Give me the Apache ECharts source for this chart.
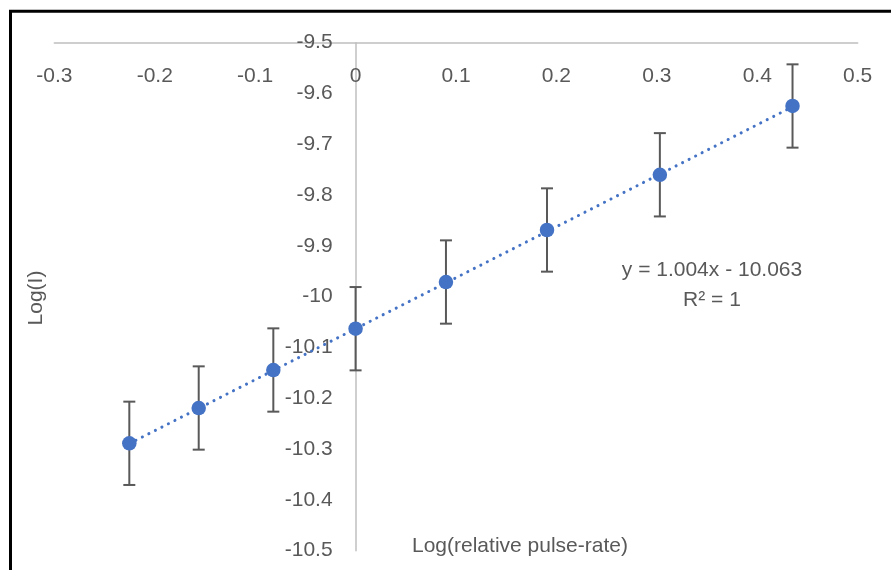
<!DOCTYPE html>
<html>
<head>
<meta charset="utf-8">
<script src="https://cdn.jsdelivr.net/npm/echarts@6/dist/echarts.min.js"></script>
<style>
  html, body { margin: 0; padding: 0; background: #fff; }
  #chart { width: 891px; height: 570px; }
</style>
</head>
<body>
<div id="chart"></div>
<script>
// ---- data ----
const xVals = [-0.2253, -0.1562, -0.0819, 0.0, 0.0900, 0.1906, 0.3030, 0.4351];
const yVals = [-10.2886, -10.2191, -10.1443, -10.0630, -9.9711, -9.8687, -9.7600, -9.6246];
const errVals = [0.082, 0.082, 0.082, 0.082, 0.082, 0.082, 0.082, 0.082];
const xTicks = [-0.3, -0.2, -0.1, 0, 0.1, 0.2, 0.3, 0.4, 0.5];
const yTicks = [-10.5, -10.4, -10.3, -10.2, -10.1, -10, -9.9, -9.8, -9.7, -9.6, -9.5];
const trendSlope = 1.004;
const trendIntercept = -10.063;
const eqText = 'y = 1.004x - 10.063';
const r2Text = 'R² = 1';
const xTitle = 'Log(relative pulse-rate)';
const yTitle = 'Log(I)';

const points = xVals.map((x, i) => [x, yVals[i]]);
const errData = xVals.map((x, i) => [x, yVals[i], errVals[i]]);
const xMin = Math.min(...xVals), xMax = Math.max(...xVals);
const trend = [[xMin, trendSlope * xMin + trendIntercept], [xMax, trendSlope * xMax + trendIntercept]];

const FONT = 'Liberation Sans, Arial, sans-serif';
const TXT = '#595959';

const GRID_L = 54.3, GRID_R = 33.3;
const plotW = 891 - GRID_L - GRID_R;
const xAxisMin = xTicks[0], xAxisMax = xTicks[xTicks.length - 1];
// y axis crosses at x = 0
const yAxisOffset = -plotW * (0 - xAxisMin) / (xAxisMax - xAxisMin);

const chart = echarts.init(document.getElementById('chart'), null, { renderer: 'canvas' });
chart.setOption({
  animation: false,
  backgroundColor: '#ffffff',
  grid: { left: GRID_L, right: GRID_R, top: 42.7, bottom: 19.3, containLabel: false, outerBoundsMode: 'none' },
  xAxis: {
    type: 'value', min: xAxisMin, max: xAxisMax, interval: 0.1,
    position: 'top',
    axisLine: { onZero: false, lineStyle: { color: '#BFBFBF', width: 1.5 } },
    axisTick: { show: false },
    splitLine: { show: false },
    axisLabel: {
      inside: true, margin: 23, color: TXT, fontSize: 21, fontFamily: FONT,
      formatter: v => { const r = Math.round(v * 10) / 10; return xTicks.includes(r) ? String(r) : ''; }
    }
  },
  yAxis: {
    type: 'value', min: -10.5, max: -9.5, interval: 0.1,
    position: 'left', offset: yAxisOffset,
    axisLine: { onZero: false, lineStyle: { color: '#BFBFBF', width: 1.5 } },
    axisTick: { show: false },
    splitLine: { show: false },
    axisLabel: {
      margin: 23, color: TXT, fontSize: 21, fontFamily: FONT,
      formatter: v => { const r = Math.round(v * 10) / 10; return yTicks.includes(r) ? String(r) : ''; }
    }
  },
  graphic: [
    { type: 'polyline', silent: true, z: 100,
      shape: { points: [[10.5, 575], [10.5, 11.3], [895, 11.3]] },
      style: { stroke: '#000', lineWidth: 3, fill: null } },
    { type: 'text', left: 412, top: 536,
      style: { text: xTitle, fill: TXT, font: '21px ' + FONT } },
    { type: 'text', x: 36, y: 298, rotation: Math.PI / 2,
      style: { text: yTitle, fill: TXT, font: '21px ' + FONT, align: 'center', verticalAlign: 'middle' } },
    { type: 'text', x: 712, y: 270,
      style: { text: eqText, fill: TXT, font: '21px ' + FONT, align: 'center', verticalAlign: 'middle' } },
    { type: 'text', x: 712, y: 300,
      style: { text: r2Text, fill: TXT, font: '21px ' + FONT, align: 'center', verticalAlign: 'middle' } }
  ],
  series: [
    {
      type: 'custom', name: 'err', z: 2,
      data: errData,
      renderItem: (params, api) => {
        const x = api.value(0), y = api.value(1), e = api.value(2);
        const top = api.coord([x, y + e]);
        const bot = api.coord([x, y - e]);
        const hw = 6;
        const st = { stroke: '#595959', lineWidth: 2 };
        return {
          type: 'group',
          children: [
            { type: 'line', shape: { x1: top[0], y1: top[1], x2: bot[0], y2: bot[1] }, style: st },
            { type: 'line', shape: { x1: top[0] - hw, y1: top[1], x2: top[0] + hw, y2: top[1] }, style: st },
            { type: 'line', shape: { x1: bot[0] - hw, y1: bot[1], x2: bot[0] + hw, y2: bot[1] }, style: st }
          ]
        };
      }
    },
    {
      type: 'line', name: 'trend', z: 3,
      data: trend, symbol: 'none',
      lineStyle: { color: '#4472C4', width: 3, type: [0.1, 7.2], cap: 'round' }
    },
    {
      type: 'scatter', name: 'data', z: 4,
      data: points, symbol: 'circle', symbolSize: 14.5,
      itemStyle: { color: '#4472C4', opacity: 1 }
    }
  ]
});
</script>
</body>
</html>
